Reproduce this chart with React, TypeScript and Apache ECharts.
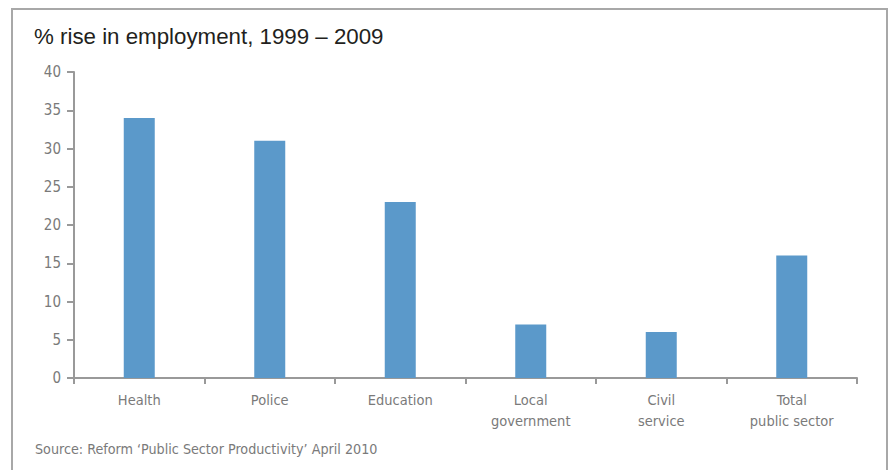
import React, { useEffect, useRef } from "react";
import * as echarts from "echarts";

const categories = ["Health", "Police", "Education", "Local\ngovernment", "Civil\nservice", "Total\npublic sector"];
const values = [34, 31, 23, 7, 6, 16];
const yTicks = { min: 0, max: 40, interval: 5 };

const labelFont = "'Liberation Sans Narrow', 'DejaVu Sans Condensed', sans-serif";

export default function App() {
  const ref = useRef<HTMLDivElement>(null);
  useEffect(() => {
    const chart = echarts.init(ref.current!, null, { renderer: "svg" });
    chart.setOption({
      animation: false,
      backgroundColor: "#ffffff",
      title: {
        text: "% rise in employment, 1999 – 2009",
        left: 29,
        top: 20,
        textStyle: { fontFamily: "'Liberation Sans', Arial, sans-serif", fontSize: 22.3, fontWeight: "normal", color: "#231f20" },
      },
      graphic: [
        {
          type: "rect",
          shape: { x: 12, y: 9, width: 875, height: 475 },
          style: { fill: "none", stroke: "#a8a8a8", lineWidth: 2 },
          silent: true,
        },
        {
          type: "text",
          left: 35,
          top: 442,
          style: {
            text: "Source: Reform ‘Public Sector Productivity’ April 2010",
            font: `14.2px ${labelFont}`,
            fill: "#7a7a7a",
          },
        },
      ],
      grid: { left: 74, right: 33, top: 72, bottom: 92, containLabel: false },
      xAxis: {
        type: "category",
        data: categories,
        axisLine: { lineStyle: { color: "#999999", width: 2 } },
        axisTick: { show: true, length: 6, lineStyle: { color: "#999999", width: 2 } },
        axisLabel: { color: "#7a7a7a", fontSize: 14.5, fontFamily: labelFont, margin: 11, lineHeight: 21, interval: 0 },
      },
      yAxis: {
        type: "value",
        min: yTicks.min,
        max: yTicks.max,
        interval: yTicks.interval,
        axisLine: { show: true, lineStyle: { color: "#999999", width: 2 } },
        axisTick: { show: true, length: 7, lineStyle: { color: "#999999", width: 2 } },
        splitLine: { show: false },
        axisLabel: { color: "#7a7a7a", fontSize: 15, fontFamily: labelFont, margin: 13 },
      },
      series: [
        {
          type: "bar",
          data: values,
          barWidth: 31,
          itemStyle: { color: "#5b99ca" },
        },
      ],
    });
    return () => chart.dispose();
  }, []);
  return (
    <div style={{ position: "fixed", left: 0, top: 0, width: 890, height: 470 }}>
      <div ref={ref} style={{ width: 890, height: 470 }} />
    </div>
  );
}
